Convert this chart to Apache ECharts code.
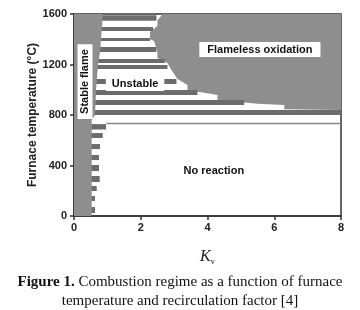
<!DOCTYPE html>
<html>
<head>
<meta charset="utf-8">
<script src="https://cdn.jsdelivr.net/npm/echarts@6/dist/echarts.min.js"></script>
<style>
  html, body { margin: 0; padding: 0; background: #fff; }
  #chart { width: 360px; height: 310px; }
</style>
</head>
<body>
<div id="chart"></div>
<script>
// axis ticks
const kTicks = [0, 2, 4, 6, 8];
const tempTicks = [0, 400, 800, 1200, 1600];

// stable flame region outline (Kv, T)
const stableK = [0, 0.53, 0.53, 0.63, 0.66, 0.72, 0.78, 0.84, 0.86, 0];
const stableT = [0, 0, 760, 800, 1000, 1200, 1300, 1500, 1600, 1600];

// flameless oxidation region outline
const flamelessK = [2.66, 2.5, 2.5, 2.28, 2.28, 2.4, 2.5, 2.5, 2.8, 2.9, 3.0, 3.1, 3.4, 3.4, 4.3, 4.3, 5.5, 6.3, 6.3, 8, 8];
const flamelessT = [1600, 1550, 1505, 1457, 1400, 1386, 1300, 1251, 1212, 1164, 1125, 1085, 1038, 998, 958, 919, 890, 879, 845, 840, 1600];

// unstable zone stripes
const stripeLow = [1547, 1465, 1386, 1299, 1212, 1164, 1045, 958, 879, 800];
const stripeHigh = [1590, 1497, 1410, 1339, 1244, 1196, 1085, 998, 919, 840];
const stripeStart = [0.5, 0.5, 0.5, 0.5, 0.5, 0.5, 0.5, 0.5, 0.5, 0.5];
const stripeEnd = [2.47, 2.37, 2.28, 2.47, 2.72, 2.8, 3.07, 3.7, 5.1, 8];

// stripes below ignition
const lowBarLow = [685, 618, 530, 443, 356, 269, 198, 119, 24];
const lowBarHigh = [728, 657, 570, 483, 404, 317, 238, 158, 71];
const lowBarStart = [0.5, 0.5, 0.5, 0.5, 0.5, 0.5, 0.5, 0.5, 0.5];
const lowBarEnd = [0.96, 0.86, 0.78, 0.75, 0.75, 0.77, 0.68, 0.63, 0.63];

// ignition line
const ignitionK = [0.97, 8];
const ignitionT = [733, 733];

// region labels
const labelText = ['Stable flame', 'Unstable', 'Flameless oxidation', 'No reaction'];
const labelK = [0.33, 1.83, 5.57, 4.19];
const labelT = [1065, 1042, 1319, 356];

const gray = '#8e8e8e';
const dark = '#6c6c6c';
const sans = 'Arial, "Liberation Sans", sans-serif';
const serif = '"Liberation Serif", "DejaVu Serif", serif';

function polygonSeries(ks, ts, color, z) {
  return {
    type: 'custom',
    silent: true,
    z: z,
    clip: true,
    data: ks.map((k, i) => [k, ts[i]]),
    renderItem: function(params, api) {
      if (params.dataIndex !== 0) return null;
      return {
        type: 'polygon',
        shape: { points: ks.map((k, i) => api.coord([k, ts[i]])) },
        style: { fill: color }
      };
    }
  };
}

function stripeSeries(starts, ends, lows, highs, color, z) {
  return {
    type: 'custom',
    silent: true,
    z: z,
    clip: true,
    encode: { x: [0, 1], y: [2, 3] },
    data: lows.map((lo, i) => [starts[i], ends[i], lo, highs[i]]),
    renderItem: function(params, api) {
      const p0 = api.coord([api.value(0), api.value(3)]);
      const p1 = api.coord([api.value(1), api.value(2)]);
      return {
        type: 'rect',
        shape: { x: p0[0], y: p0[1], width: p1[0] - p0[0], height: p1[1] - p0[1] },
        style: { fill: color }
      };
    }
  };
}

const myChart = echarts.init(document.getElementById('chart'));
const option = {
  animation: false,
  title: [
    {
      text: '{b|Figure 1.} Combustion regime as a function of furnace',
      left: 'center',
      top: 270,
      textStyle: {
        fontFamily: serif,
        fontSize: 15,
        fontWeight: 'normal',
        color: '#111',
        rich: { b: { fontFamily: serif, fontSize: 15, fontWeight: 'bold', color: '#111' } }
      }
    },
    {
      text: 'temperature and recirculation factor [4]',
      left: 'center',
      top: 289,
      textStyle: {
        fontFamily: serif,
        fontSize: 15,
        fontWeight: 'normal',
        color: '#111'
      }
    }
  ],
  grid: {
    left: 74, right: 19, top: 14, bottom: 94,
    show: true,
    borderColor: '#333',
    borderWidth: 1.5,
    backgroundColor: '#fff'
  },
  xAxis: {
    type: 'value',
    min: 0, max: 8, interval: 2,
    name: '{k|K}{v|v}',
    nameLocation: 'middle',
    nameGap: 31,
    nameTextStyle: {
      rich: {
        k: { fontFamily: serif, fontStyle: 'italic', fontSize: 16, color: '#222' },
        v: { fontFamily: serif, fontSize: 9, color: '#222', padding: [10, 0, 0, 0] }
      }
    },
    splitLine: { show: false },
    axisLine: { lineStyle: { color: '#333', width: 1.5 } },
    axisTick: { show: true, length: 4, lineStyle: { color: '#333', width: 1.5 } },
    axisLabel: {
      margin: 6,
      fontFamily: sans,
      fontWeight: 'bold',
      fontSize: 11,
      color: '#222',
      formatter: v => (kTicks.indexOf(v) >= 0 ? String(v) : '')
    }
  },
  yAxis: {
    type: 'value',
    min: 0, max: 1600, interval: 400,
    name: 'Furnace temperature (°C)',
    nameLocation: 'middle',
    nameMoveOverlap: false,
    nameGap: 35,
    nameTextStyle: {
      fontFamily: sans,
      fontWeight: 'bold',
      fontSize: 12,
      color: '#222'
    },
    splitLine: { show: false },
    axisLine: { show: true, lineStyle: { color: '#333', width: 1.5 } },
    axisTick: { show: true, length: 4, lineStyle: { color: '#333', width: 1.5 } },
    axisLabel: {
      margin: 7,
      fontFamily: sans,
      fontWeight: 'bold',
      fontSize: 11,
      color: '#222',
      formatter: v => (tempTicks.indexOf(v) >= 0 ? String(v) : '')
    }
  },
  series: [
    polygonSeries(flamelessK, flamelessT, gray, 1),
    stripeSeries(stripeStart, stripeEnd, stripeLow, stripeHigh, dark, 2),
    stripeSeries(lowBarStart, lowBarEnd, lowBarLow, lowBarHigh, dark, 2),
    {
      type: 'line',
      silent: true,
      z: 2,
      data: ignitionK.map((k, i) => [k, ignitionT[i]]),
      showSymbol: false,
      symbol: 'none',
      lineStyle: { color: '#888', width: 1.5 }
    },
    polygonSeries(stableK, stableT, gray, 3),
    {
      type: 'custom',
      silent: true,
      z: 5,
      data: labelText.map((t, i) => [labelK[i], labelT[i]]),
      renderItem: function(params, api) {
        const i = params.dataIndex;
        const p = api.coord([api.value(0), api.value(1)]);
        const boxed = i !== 3;
        const pads = [[2, 5], [1, 6], [2, 8], [0, 0]];
        return {
          type: 'text',
          x: p[0],
          y: p[1],
          rotation: i === 0 ? Math.PI / 2 : 0,
          style: {
            text: labelText[i],
            fontFamily: sans,
            fontWeight: 'bold',
            fontSize: 11,
            fill: '#111',
            align: 'center',
            verticalAlign: 'middle',
            backgroundColor: boxed ? '#fff' : null,
            padding: pads[i]
          }
        };
      }
    }
  ]
};
myChart.setOption(option);
</script>
</body>
</html>
